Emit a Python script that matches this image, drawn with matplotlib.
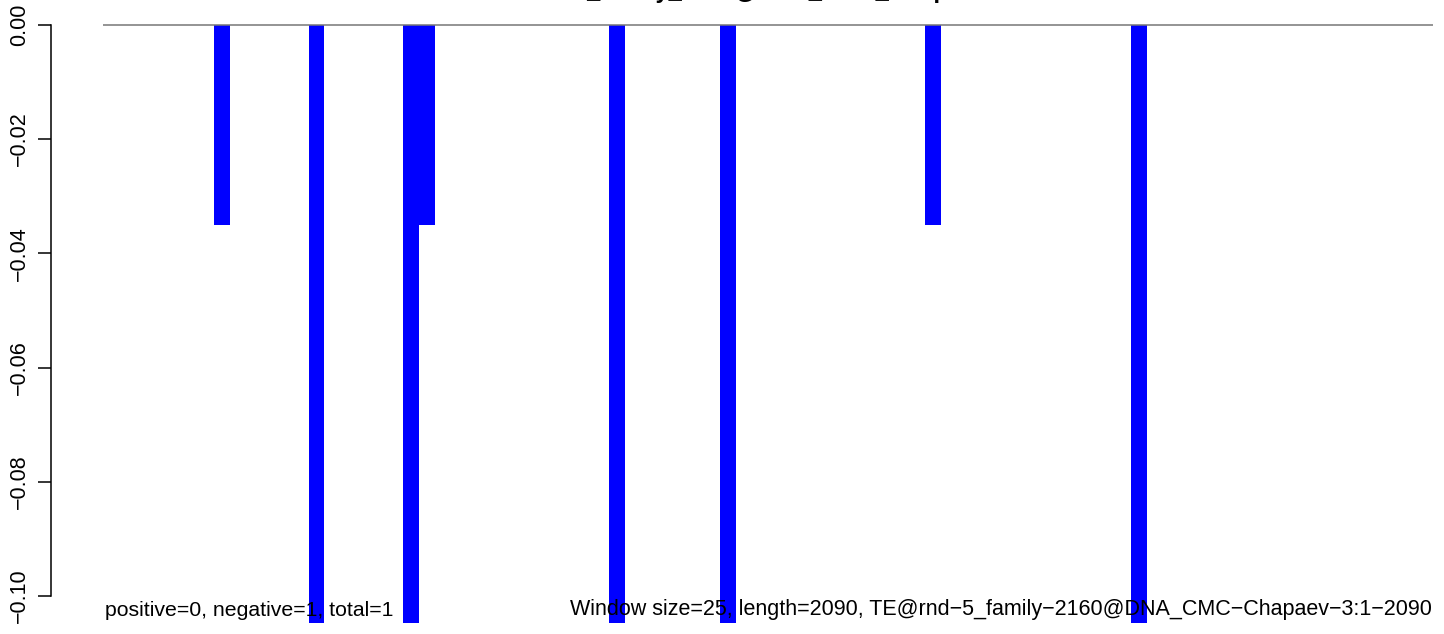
import matplotlib
matplotlib.use("Agg")
import matplotlib.pyplot as plt

# window index (left edge, 25 bp windows) and value of each non-empty window
windowIndex = [7, 13, 19, 20, 32, 39, 52, 65]
windowValue = [-0.035, -0.105, -0.105, -0.035, -0.105, -0.105, -0.035, -0.105]
nWindows = 84.1

yTicks = [0.00, -0.02, -0.04, -0.06, -0.08, -0.10]
yTickLabels = ["0.00", "\u22120.02", "\u22120.04", "\u22120.06", "\u22120.08", "\u22120.10"]

titleText = "rnd\u22125_family_2160@DNA_CMC_Chapaev\u22123"
leftNote = "positive=0, negative=1, total=1"
rightNote = ("Window size=25, length=2090, "
             "TE@rnd\u22125_family\u22122160@DNA_CMC\u2212Chapaev\u22123:1\u22122090")

plt.rcParams["font.family"] = ["Liberation Sans", "DejaVu Sans"]

W, H = 1444, 634
fig = plt.figure(figsize=(W / 100, H / 100), dpi=100)
axes = fig.add_axes([103 / W, 11 / H, 1330 / W, 621 / H])

axes.bar(windowIndex, windowValue, width=1.0, align="edge", color="#0000ff", linewidth=0)
axes.axhline(0, color="#777777", linewidth=1.1)

axes.set_xlim(0, nWindows)
axes.set_ylim(-0.1047, 0.0040)

for side in ["top", "right", "bottom"]:
    axes.spines[side].set_visible(False)
axes.spines["left"].set_bounds(-0.10, 0.0)
axes.spines["left"].set_position(("outward", 37.4))
axes.spines["left"].set_linewidth(1.1)

axes.set_xticks([])
axes.set_yticks(yTicks)
axes.set_yticklabels(yTickLabels, rotation=90, va="center", fontsize=15.5)
axes.tick_params(axis="y", length=9.4, width=1.1, pad=6)

# title sits above the figure edge, as in the reference (only descenders show)
fig.text(768 / W, 1 + 2 / H, titleText, ha="center", va="baseline",
         fontsize=17, fontweight="bold")
fig.text(105 / W, (H - 610) / H, leftNote, ha="left", va="center", fontsize=15.3)
fig.text(1432 / W, (H - 610) / H, rightNote, ha="right", va="center", fontsize=15.5)

fig.savefig("out.png", dpi=100)
